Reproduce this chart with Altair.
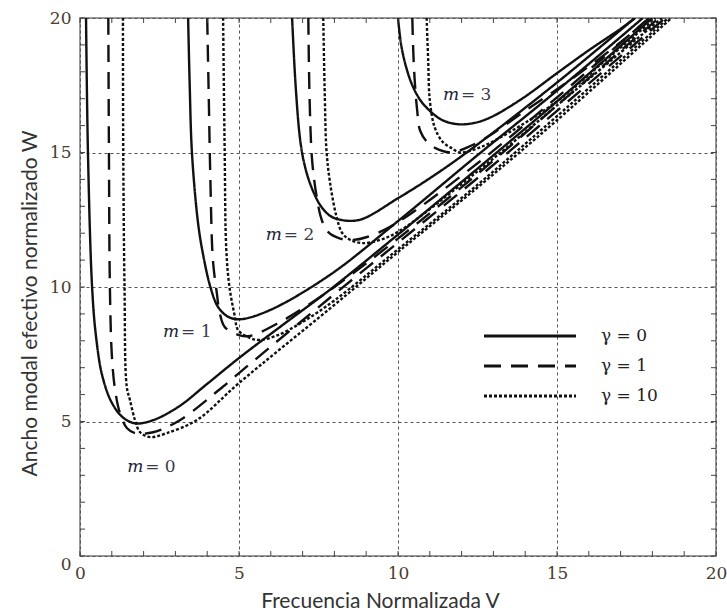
import altair as alt
import pandas as pd

# ---------------- data ----------------
# m = 0
m0_g0_V = [0.19, 0.25, 0.38, 0.5, 0.7, 1.0, 1.35, 1.75, 2.3, 3.1, 4.0, 5.0, 6.5, 7.86, 10.0, 12.5, 15.0, 18.0]
m0_g0_W = [20.0, 15.0, 10.0, 8.2, 6.7, 5.7, 5.15, 4.93, 5.05, 5.55, 6.4, 7.36, 8.7, 9.9, 11.95, 14.4, 16.9, 20.0]
m0_g1_V = [0.89, 0.91, 0.94, 1.0, 1.1, 1.26, 1.48, 1.73, 2.3, 3.14, 4.5, 5.0, 7.86, 10.0, 12.5, 15.0, 18.4]
m0_g1_W = [20.0, 15.0, 10.0, 7.5, 6.2, 5.3, 4.75, 4.57, 4.6, 5.05, 6.3, 6.8, 9.6, 11.65, 14.05, 16.55, 20.0]
m0_g10_V = [1.35, 1.36, 1.4, 1.47, 1.57, 1.73, 1.89, 2.2, 2.73, 3.68, 5.0, 7.86, 10.0, 12.5, 15.0, 18.6]
m0_g10_W = [20.0, 15.0, 10.0, 6.3, 5.8, 5.05, 4.6, 4.42, 4.57, 5.06, 6.43, 9.2, 11.3, 13.7, 16.2, 20.0]
# m = 1
m1_g0_V = [3.4, 3.45, 3.52, 3.7, 3.84, 4.1, 4.34, 4.65, 5.03, 5.97, 7.86, 10.0, 12.5, 15.0, 17.7]
m1_g0_W = [20.0, 17.5, 15.0, 12.5, 11.4, 10.0, 9.26, 8.9, 8.8, 9.14, 10.45, 12.45, 14.9, 17.3, 20.0]
m1_g1_V = [4.0, 4.05, 4.1, 4.18, 4.3, 4.4, 4.56, 5.03, 5.35, 6.3, 7.0, 8.0, 10.0, 12.5, 15.0, 18.2]
m1_g1_W = [20.0, 17.0, 14.0, 11.0, 9.8, 9.0, 8.5, 8.2, 8.18, 8.7, 9.2, 10.0, 11.8, 14.2, 16.75, 20.0]
m1_g10_V = [4.5, 4.55, 4.6, 4.7, 4.87, 4.97, 5.35, 5.66, 6.2, 7.0, 8.0, 10.0, 12.5, 15.0, 18.5]
m1_g10_W = [20.0, 15.0, 11.4, 10.0, 8.9, 8.4, 8.1, 8.03, 8.2, 8.7, 9.5, 11.4, 13.8, 16.35, 20.0]
# m = 2
m2_g0_V = [6.67, 6.78, 6.92, 7.05, 7.25, 7.55, 7.86, 8.18, 8.8, 10.0, 11.2, 12.5, 15.0, 17.45]
m2_g0_W = [20.0, 17.5, 15.5, 14.6, 13.8, 13.05, 12.65, 12.5, 12.5, 13.3, 14.2, 15.3, 17.6, 20.0]
m2_g1_V = [7.18, 7.22, 7.3, 7.45, 7.6, 7.8, 8.18, 8.6, 9.0, 9.85, 12.5, 15.0, 17.9]
m2_g1_W = [20.0, 17.0, 14.7, 13.3, 12.5, 12.05, 11.8, 11.75, 11.85, 12.3, 14.6, 17.05, 20.0]
m2_g10_V = [7.65, 7.7, 7.75, 7.86, 8.07, 8.25, 8.5, 8.9, 9.43, 10.0, 12.5, 15.0, 18.3]
m2_g10_W = [20.0, 17.0, 15.1, 13.9, 12.6, 12.0, 11.75, 11.63, 11.75, 12.05, 14.3, 16.75, 20.0]
# m = 3
m3_g0_V = [10.0, 10.1, 10.25, 10.45, 10.7, 11.0, 11.4, 11.9, 12.4, 12.9, 13.9, 15.0, 16.0, 17.0, 17.45]
m3_g0_W = [20.0, 19.0, 18.2, 17.5, 16.95, 16.55, 16.2, 16.05, 16.1, 16.3, 17.0, 17.95, 18.8, 19.6, 20.0]
m3_g1_V = [10.45, 10.5, 10.6, 10.7, 10.95, 11.3, 11.7, 12.2, 12.7, 13.1, 14.0, 15.0, 16.0, 17.0, 17.9]
m3_g1_W = [20.0, 18.2, 16.6, 15.8, 15.35, 15.1, 15.0, 15.2, 15.5, 15.8, 16.55, 17.35, 18.2, 19.1, 20.0]
m3_g10_V = [10.9, 10.95, 11.0, 11.15, 11.4, 11.7, 11.95, 12.6, 13.5, 15.0, 16.5, 18.1]
m3_g10_W = [20.0, 18.4, 16.95, 15.95, 15.4, 15.15, 15.0, 15.2, 15.75, 16.9, 18.4, 20.0]

gamma_labels = ["γ = 0", "γ = 1", "γ = 10"]
mode_numbers = ["0", "1", "2", "3"]
mode_label_V = [2.27, 3.4, 6.63, 12.2]
mode_label_W = [3.3, 8.33, 11.93, 17.14]
axis_values = [0, 5, 10, 15, 20]
tick_values = list(range(0, 21))

curves = [
    ("0", gamma_labels[0], m0_g0_V, m0_g0_W),
    ("0", gamma_labels[1], m0_g1_V, m0_g1_W),
    ("0", gamma_labels[2], m0_g10_V, m0_g10_W),
    ("1", gamma_labels[0], m1_g0_V, m1_g0_W),
    ("1", gamma_labels[1], m1_g1_V, m1_g1_W),
    ("1", gamma_labels[2], m1_g10_V, m1_g10_W),
    ("2", gamma_labels[0], m2_g0_V, m2_g0_W),
    ("2", gamma_labels[1], m2_g1_V, m2_g1_W),
    ("2", gamma_labels[2], m2_g10_V, m2_g10_W),
    ("3", gamma_labels[0], m3_g0_V, m3_g0_W),
    ("3", gamma_labels[1], m3_g1_V, m3_g1_W),
    ("3", gamma_labels[2], m3_g10_V, m3_g10_W),
]
rows = []
for m, g, Vs, Ws in curves:
    for i, (v, w) in enumerate(zip(Vs, Ws)):
        rows.append({"m": m, "gamma": g, "V": v, "W": w, "i": i, "curve": f"{m}|{g}"})
df = pd.DataFrame(rows)
ticks_df = pd.DataFrame({"V": tick_values, "W": tick_values})
labels_df = pd.DataFrame({"V": mode_label_V, "W": mode_label_W, "num": ["= " + n for n in mode_numbers]})

# ---------------- chart ----------------
PW, PH = 636, 538
SERIF = "DejaVu Serif"
LABEL_COLOR = "#4a3c2e"

xs = alt.Scale(domain=[0, 20], nice=False, zero=False)
ys = alt.Scale(domain=[0, 20], nice=False, zero=False)

x_axis = alt.Axis(
    values=axis_values, grid=True, gridDash=[3, 3], gridColor="#555", gridWidth=1,
    ticks=False, domain=False, labelFont=SERIF, labelFontSize=17, labelColor=LABEL_COLOR,
    labelPadding=9, labelFlush=False,
    title="Frecuencia Normalizada V", titleFont="Lato", titleFontSize=21,
    titleFontWeight="normal", titleColor="#333", titleX=300, titleY=45,
    titleBaseline="middle", titleAlign="center",
)
y_axis = alt.Axis(
    values=axis_values, grid=True, gridDash=[3, 3], gridColor="#555", gridWidth=1,
    ticks=False, domain=False, labelFont=SERIF, labelFontSize=17, labelColor=LABEL_COLOR,
    labelPadding=9, labelFlush=False,
    labelBaseline={"condition": {"test": "datum.value === 0", "value": "top"}, "value": "middle"},
    title="Ancho modal efectivo normalizado W", titleFont="Lato", titleFontSize=21,
    titleFontWeight="normal", titleColor="#333", titleX=-50, titleY=285,
    titleBaseline="middle", titleAlign="center", titleAngle=-90,
)

X = alt.X("V:Q", scale=xs, axis=x_axis)
Y = alt.Y("W:Q", scale=ys, axis=y_axis)

lines = alt.Chart(df).mark_line(interpolate="catmull-rom", strokeWidth=2.4, color="#111", clip=True).encode(
    x=X,
    y=Y,
    detail="curve:N",
    order="i:Q",
    strokeDash=alt.StrokeDash(
        "gamma:N",
        scale=alt.Scale(domain=gamma_labels, range=[[1, 0], [17, 10], [3, 2]]),
        legend=alt.Legend(
            title=None, orient="none", legendX=437, legendY=305, padding=0,
            symbolType="M-4,0H4", symbolSize=529, symbolStrokeWidth=3,
            symbolStrokeColor="#111", symbolFillColor="transparent",
            labelOffset=58, labelFont=SERIF, labelFontSize=17, labelColor="#222",
            rowPadding=9,
        ),
    ),
)

tick_bottom = alt.Chart(ticks_df).mark_rule(color="#444", strokeWidth=1).encode(
    x=X, y=alt.value(PH), y2=alt.value(PH - 5))
tick_top = alt.Chart(ticks_df).mark_rule(color="#444", strokeWidth=1).encode(
    x=X, y=alt.value(0), y2=alt.value(5))
tick_left = alt.Chart(ticks_df).mark_rule(color="#444", strokeWidth=1).encode(
    y=Y, x=alt.value(0), x2=alt.value(5))
tick_right = alt.Chart(ticks_df).mark_rule(color="#444", strokeWidth=1).encode(
    y=Y, x=alt.value(PW), x2=alt.value(PW - 5))

m_text = alt.Chart(labels_df).mark_text(
    text="m", font=SERIF, fontStyle="italic", fontSize=17, color="#222238", align="left", dx=-25
).encode(x=X, y=Y)
num_text = alt.Chart(labels_df).mark_text(
    font=SERIF, fontSize=17, color="#3a3a4a", align="left", dx=-7
).encode(x=X, y=Y, text="num:N")

chart = alt.layer(
    lines, tick_bottom, tick_top, tick_left, tick_right, m_text, num_text
).properties(
    width=PW, height=PH,
    padding={"left": 80, "top": 18, "right": 11, "bottom": 57},
    autosize=alt.AutoSizeParams(type="none"),
    background="white",
).configure_view(stroke="#777", strokeWidth=1.5)

chart.save("out.html", embed_options={"renderer": "svg", "actions": False})
